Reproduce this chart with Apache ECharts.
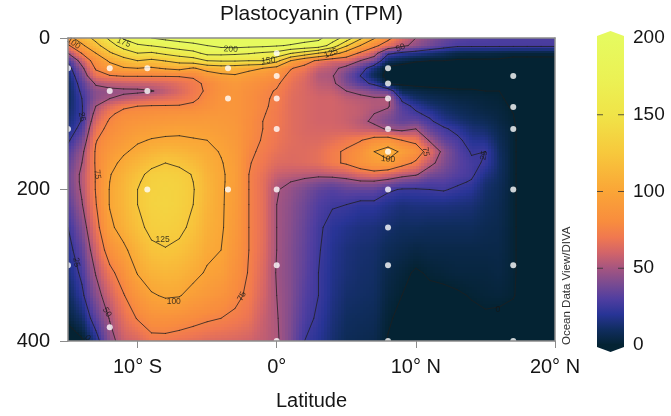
<!DOCTYPE html>
<html><head><meta charset="utf-8">
<script src="https://cdn.jsdelivr.net/npm/echarts@6/dist/echarts.min.js"></script>
<style>html,body{margin:0;padding:0;background:#fff}#c{width:671px;height:416px}</style>
</head><body><div id="c"></div>
<script>
// ---- data ----
const lats = [-15,-14,-13,-12,-11,-10,-9,-8,-7,-6,-5,-4,-3,-2,-1,0,1,2,3,4,5,6,7,8,9,10,11,12,13,14,15,16,17,18,19,20];
const depths = [0,10,20,30,40,50,60,70,80,90,100,110,120,135,150,165,180,190,200,220,250,280,310,340,370,400];
// one depth profile (values at `depths`) per latitude in `lats`
const valuesByLat = [
  [92,72,50,28,18,13,10,9,9,10,12,14,17,23,30,34,37,37,36,32,25,20,15,9,3,-8],
  [112,96,76,58,46,38,32,28,25,24,24,26,30,38,46,50,53,53,52,49,41,34,28,22,12,-2],
  [132,118,100,85,77,68,52,44,44,50,56,62,68,74,77,77,76,76,76,74,68,60,51,43,33,18],
  [155,140,122,103,90,74,56,46,50,64,72,77,80,85,90,95,99,100,101,101,96,84,70,60,51,44],
  [178,160,138,115,98,76,58,47,54,72,80,84,87,92,98,104,109,111,112,112,108,96,84,74,66,58],
  [190,172,150,125,100,76,59,47,58,75,82,87,92,98,104,112,120,123,125,125,120,110,101,88,76,62],
  [200,176,147,120,97,76,60,49,62,76,84,89,94,101,110,120,130,132,133,134,130,121,110,98,84,70],
  [206,182,155,126,102,76,62,55,65,76,85,90,96,102,114,125,132,134,135,136,132,124,113,102,85,70],
  [211,188,162,133,106,76,66,62,68,76,86,91,97,102,112,122,130,132,133,133,129,121,111,101,83,68],
  [215,193,168,138,98,77,71,70,72,78,86,91,96,101,108,116,124,125,126,125,121,114,105,94,80,66],
  [218,200,182,150,108,88,78,77,80,83,88,92,95,100,104,107,110,111,112,111,108,104,98,90,77,64],
  [220,206,182,152,112,95,86,85,86,87,89,91,93,96,99,101,102,102,102,102,102,100,95,86,75,63],
  [221,208,180,152,110,98,90,88,88,88,88,89,90,91,93,94,95,95,94,93,91,88,84,79,72,62],
  [221,206,177,150,105,92,86,83,82,82,82,81,81,80,78,76,75,75,75,75,75,75,74,72,68,60],
  [220,205,172,150,100,88,81,78,77,77,76,75,75,74,72,70,67,66,66,66,66,65,63,61,58,56],
  [218,202,168,132,92,82,77,74,73,72,71,71,70,69,67,64,58,54,51,50,50,50,49,50,51,52],
  [214,198,152,100,76,71,68,66,65,65,65,65,65,65,64,63,56,50,46,44,43,42,42,42,41,40],
  [208,194,140,82,70,64,62,62,62,62,62,62,62,63,64,64,55,46,40,37,35,34,33,31,29,25],
  [205,190,125,72,58,53,55,58,60,60,60,60,61,63,66,66,54,42,34,30,27,26,25,25,23,20],
  [188,165,112,62,54,51,53,57,60,60,60,60,61,66,72,72,56,40,31,26,21,19,18,17,15,13],
  [165,128,90,62,45,38,40,50,56,58,58,58,60,70,77,77,58,44,34,25,18,15,14,12,10,8],
  [130,100,72,50,33,25,30,46,54,56,56,54,57,74,84,86,64,48,34,22,16,13,12,11,9,7],
  [102,80,58,40,15,8,22,40,52,53,50,47,55,82,100,92,68,48,34,22,15,12,11,10,8,6],
  [80,65,28,10,-3,-4,0,36,53,52,44,40,48,85,110,95,62,44,27,18,12,8,5,3,1,-0.5],
  [62,54,22,5,-5,-6,-2,8,22,30,33,34,45,75,96,82,56,38,24,15,10,6,2,0,-2,-3],
  [50,45,18,1,-5,-6,-3,5,12,22,27,35,50,70,86,72,52,35,24,16,10,4,-1,-2,-3,-4],
  [42,38,14,0,-5,-6,-3,3,8,14,22,27,34,48,66,55,40,31,25,16,9,5,1,-2,-3,-4],
  [36,32,10,0,-5,-6,-3,2,6,10,14,19,27,34,45,42,36,31,26,16,9,5,2,-2,-3,-4],
  [32,28,5,-1,-5,-6,-3,1,4,7,10,14,21,28,32,33,31,27,23,15,9,5,3,-1,-3,-4],
  [30,28,4,-1,-5,-6,-3,1,3,5,7,10,14,19,24,27,27,24,20,14,9,5,3,0.5,-2,-3],
  [30,28,4,-1,-5,-6,-3,0,2,3,5,8,12,18,25,24,18,14,12,10,7,5,3,1.5,-1,-3],
  [29,28,3,-1,-5,-6,-2,0,1,2,3,4,6,8,10,11,10,9,8,7,6,5,4,2,-2,-4],
  [29,28,2,-2,-5,-6,-4,-3,-2,-1,0,0.5,1,1,1,1,1,1,1,1,1,1,1,0.5,-3,-5],
  [29,28,2,-2,-5,-6,-5,-4,-4,-4,-4,-4,-4,-4,-4,-4,-4,-4,-4,-4,-4,-4,-4,-4,-5,-6],
  [29,28,2,-2,-5,-6,-6,-5,-5,-5,-5,-5,-5,-5,-5,-5,-5,-5,-5,-5,-5,-5,-5,-5,-6,-7],
  [29,28,2,-2,-5,-6,-6,-6,-6,-6,-6,-6,-6,-6,-6,-6,-6,-6,-6,-6,-6,-6,-6,-6,-7,-8]
];
// sample positions [latitude, depth]
const stations = [
  [-15,40],[-15,120],[-15,300],
  [-12,40],[-12,70],[-12,382],
  [-9.3,40],[-9.3,70],[-9.3,200],
  [-3.5,40],[-3.5,80],[-3.5,200],
  [0,20],[0,50],[0,80],[0,120],[0,200],[0,300],[0,400],
  [8,40],[8,60],[8,80],[8,120],[8,150],[8,200],[8,250],[8,300],[8,400],
  [17,50],[17,91],[17,120],[17,200],[17,300],[17,400]
];
const contourLevels = [0,25,50,75,100,125,150,175,200];
// contour labels [latitude, depth, text, rotation]
const contourLabels = [
  [-14.6,7,'100',-35],[-11.0,6,'175',-22],[-3.3,15,'200',-3],[-0.6,30,'150',6],
  [3.9,20,'125',22],[8.9,13,'50',20],[-14.0,104,'25',-78],[-12.9,180,'75',-82],
  [-8.2,266,'125',0],[-7.4,348,'100',0],[-2.5,341,'75',62],[-12.2,362,'50',-60],
  [-14.4,296,'25',-80],[-13.6,396,'0',-45],[8.0,160,'100',-5],[10.7,150,'75',-80],
  [14.9,155,'25',78],[15.9,358,'0',0]
];
const xTickValues = [-10,0,10,20];
const xTickLabels = ['10° S','0°','10° N','20° N'];
const colorbarRange = [0,200];
const colorbarDashes = [50,100,150];
// colour scale stops [value, rgb]
const colorStops = [
  [0,[4,35,51]],[10,[16,45,95]],[20,[40,52,150]],[30,[80,62,160]],[40,[122,75,145]],
  [50,[165,85,128]],[60,[210,100,105]],[70,[240,120,80]],[80,[248,140,62]],
  [100,[250,165,55]],[125,[247,200,60]],[150,[240,228,72]],[175,[235,242,85]],[200,[230,250,95]]
];

// ---- helpers ----
const FONT = "'Liberation Sans', Arial, Helvetica, sans-serif";
function rgb(c){return 'rgb('+Math.round(c[0])+','+Math.round(c[1])+','+Math.round(c[2])+')';}
function colorFor(v){
  if (v <= colorStops[0][0]) return rgb(colorStops[0][1]);
  const last = colorStops[colorStops.length-1];
  if (v >= last[0]) return rgb(last[1]);
  for (let k=0;k<colorStops.length-1;k++){
    const a=colorStops[k], b=colorStops[k+1];
    if (v>=a[0] && v<=b[0]){
      const t=(v-a[0])/(b[0]-a[0]);
      return rgb([a[1][0]+t*(b[1][0]-a[1][0]), a[1][1]+t*(b[1][1]-a[1][1]), a[1][2]+t*(b[1][2]-a[1][2])]);
    }
  }
  return rgb(last[1]);
}
function val(i,j){return valuesByLat[i][j];}

// grid cells (one per pair of neighbouring stations/levels)
const cells = [];
for (let i=0;i<lats.length-1;i++) for (let j=0;j<depths.length-1;j++) cells.push([lats[i],depths[j],i,j]);

// contour segments by marching squares on the grid
function segmentsFor(level){
  const out=[];
  for (let i=0;i<lats.length-1;i++) for (let j=0;j<depths.length-1;j++){
    const P=[[lats[i],depths[j]],[lats[i+1],depths[j]],[lats[i+1],depths[j+1]],[lats[i],depths[j+1]]];
    const V=[val(i,j),val(i+1,j),val(i+1,j+1),val(i,j+1)];
    const cr=[]; let n=0;
    for (let e=0;e<4;e++){
      const k=(e+1)%4;
      if ((V[e]>=level)!==(V[k]>=level)){
        const t=(level-V[e])/(V[k]-V[e]);
        cr[e]=[P[e][0]+t*(P[k][0]-P[e][0]), P[e][1]+t*(P[k][1]-P[e][1])]; n++;
      } else cr[e]=null;
    }
    if (n===2){
      const p=cr.filter(c=>c);
      out.push([p[0][0],p[0][1],p[1][0],p[1][1]]);
    } else if (n===4){
      const m=(V[0]+V[1]+V[2]+V[3])/4;
      if ((m>=level)===(V[0]>=level)){
        out.push([cr[0][0],cr[0][1],cr[1][0],cr[1][1]]);
        out.push([cr[2][0],cr[2][1],cr[3][0],cr[3][1]]);
      } else {
        out.push([cr[3][0],cr[3][1],cr[0][0],cr[0][1]]);
        out.push([cr[1][0],cr[1][1],cr[2][0],cr[2][1]]);
      }
    }
  }
  return out;
}
const contourSegs=[];
contourLevels.forEach(l=>{segmentsFor(l).forEach(s=>contourSegs.push(s));});

function renderCell(params, api){
  const i=api.value(2), j=api.value(3);
  const p0=api.coord([lats[i],depths[j]]);
  const p1=api.coord([lats[i+1],depths[j+1]]);
  const x0=p0[0],x1=p1[0],y0=p0[1],y1=p1[1];
  const nx=Math.max(1,Math.round((x1-x0)/3)), ny=Math.max(1,Math.round((y1-y0)/3));
  const va=val(i,j),vb=val(i+1,j),vc=val(i+1,j+1),vd=val(i,j+1);
  const ch=[];
  for (let a=0;a<nx;a++){
    const xa=Math.round(x0+(x1-x0)*a/nx), xb=Math.round(x0+(x1-x0)*(a+1)/nx);
    const u=(a+0.5)/nx;
    for (let b=0;b<ny;b++){
      const ya=Math.round(y0+(y1-y0)*b/ny), yb=Math.round(y0+(y1-y0)*(b+1)/ny);
      const w=(b+0.5)/ny;
      const v=(va*(1-u)+vb*u)*(1-w)+(vd*(1-u)+vc*u)*w;
      ch.push({type:'rect',shape:{x:xa,y:ya,width:xb-xa,height:yb-ya},style:{fill:colorFor(v)}});
    }
  }
  return {type:'group',children:ch,silent:true};
}
function renderSeg(params, api){
  const a=api.coord([api.value(0),api.value(1)]);
  const b=api.coord([api.value(2),api.value(3)]);
  return {type:'line',shape:{x1:a[0],y1:a[1],x2:b[0],y2:b[1]},style:{stroke:'#1e1e1e',lineWidth:0.85,opacity:0.9,lineCap:'round'},silent:true};
}
function renderColorbar(params, api){
  const tl=api.coord([0,api.value(2)]);
  const br=api.coord([1,api.value(1)]);
  const xL=tl[0],xR=br[0],yT=tl[1],yB=br[1],xC=(xL+xR)/2;
  const stops=colorStops.map(s=>({offset:(s[0]-colorbarRange[0])/(colorbarRange[1]-colorbarRange[0]),color:rgb(s[1])}));
  const ch=[
    {type:'rect',shape:{x:xL,y:yT,width:xR-xL,height:yB-yT},style:{fill:new echarts.graphic.LinearGradient(0,1,0,0,stops)}},
    {type:'polygon',shape:{points:[[xL,yT+0.5],[xL,yT-2],[xC,yT-7],[xR,yT-2],[xR,yT+0.5]]},style:{fill:colorFor(colorbarRange[1])}},
    {type:'polygon',shape:{points:[[xL,yB-0.5],[xL,yB+2],[xC,yB+7],[xR,yB+2],[xR,yB-0.5]]},style:{fill:colorFor(colorbarRange[0])}}
  ];
  colorbarDashes.forEach(v=>{
    const p=api.coord([0,v]);
    ch.push({type:'line',shape:{x1:xL,y1:p[1],x2:xL+6,y2:p[1]},style:{stroke:'#333',lineWidth:1,opacity:0.8}});
    ch.push({type:'line',shape:{x1:xR-6,y1:p[1],x2:xR,y2:p[1]},style:{stroke:'#333',lineWidth:1,opacity:0.8}});
  });
  return {type:'group',children:ch,silent:true};
}

const axisGray = '#8c8c8c';
const chart = echarts.init(document.getElementById('c'), null, {renderer:'canvas', width:671, height:416});
chart.setOption({
  animation:false,
  backgroundColor:'#fff',
  textStyle:{fontFamily:FONT},
  grid:[
    {left:68, top:38, width:487, height:307},
    {left:597, top:38, width:27, height:307}
  ],
  xAxis:[
    {type:'value', gridIndex:0, min:-15, max:20, position:'bottom', z:10,
     axisLine:{show:true, onZero:false, lineStyle:{color:axisGray, width:1.5}},
     axisTick:{show:true, length:7, customValues:xTickValues, lineStyle:{color:axisGray, width:1}},
     axisLabel:{show:true, customValues:xTickValues, margin:16, fontSize:20, color:'#151515', fontFamily:FONT,
       formatter:(v)=>{const k=xTickValues.indexOf(v); return k>=0?xTickLabels[k]:'';}},
     splitLine:{show:false},
     name:'Latitude', nameLocation:'middle', nameGap:50, nameTextStyle:{fontSize:20, color:'#151515', fontFamily:FONT}},
    {type:'value', gridIndex:0, min:-15, max:20, position:'top', z:10,
     axisLine:{show:true, onZero:false, lineStyle:{color:axisGray, width:1.5}},
     axisTick:{show:false}, axisLabel:{show:false}, splitLine:{show:false}},
    {type:'value', gridIndex:1, min:0, max:1, show:false}
  ],
  yAxis:[
    {type:'value', gridIndex:0, inverse:true, min:0, max:400, interval:200, position:'left', z:10,
     axisLine:{show:true, onZero:false, lineStyle:{color:axisGray, width:1.5}},
     axisTick:{show:true, length:8, lineStyle:{color:axisGray, width:1}},
     axisLabel:{margin:18, fontSize:20, color:'#151515', fontFamily:FONT},
     splitLine:{show:false}},
    {type:'value', gridIndex:0, inverse:true, min:0, max:400, position:'right', z:10,
     axisLine:{show:true, onZero:false, lineStyle:{color:axisGray, width:1.5}},
     axisTick:{show:false}, axisLabel:{show:false}, splitLine:{show:false}},
    {type:'value', gridIndex:1, min:colorbarRange[0], max:colorbarRange[1], interval:50, position:'right',
     axisLine:{show:false}, axisTick:{show:false}, splitLine:{show:false},
     axisLabel:{margin:9, fontSize:19, color:'#151515', fontFamily:FONT}}
  ],
  graphic:[
    {type:'text', x:311.5, y:14, style:{text:'Plastocyanin (TPM)', textAlign:'center', textVerticalAlign:'middle', font:'21px '+FONT, fill:'#151515'}},
    {type:'text', x:567, y:345, rotation:Math.PI/2, style:{text:'Ocean Data View/DIVA', textAlign:'left', textVerticalAlign:'middle', font:'11.5px '+FONT, fill:'#333'}}
  ],
  series:[
    {type:'custom', name:'field', xAxisIndex:0, yAxisIndex:0, data:cells, renderItem:renderCell, clip:true, z:1, silent:true, progressive:0},
    {type:'custom', name:'contours', xAxisIndex:0, yAxisIndex:0, data:contourSegs, renderItem:renderSeg, clip:true, z:2, silent:true, progressive:0},
    {type:'scatter', name:'labels', xAxisIndex:0, yAxisIndex:0, symbolSize:0.1, z:3, silent:true,
     itemStyle:{color:'transparent'},
     label:{show:true, position:'inside', formatter:'{b}', fontSize:8.5, color:'#151515', fontFamily:FONT},
     data:contourLabels.map(l=>({name:l[2], value:[l[0],l[1]], label:{rotate:l[3]}}))},
    {type:'scatter', name:'stations', xAxisIndex:0, yAxisIndex:0, data:stations, symbolSize:6, clip:true, z:4, silent:true,
     itemStyle:{color:'#ffffff'}},
    {type:'custom', name:'colorbar', xAxisIndex:2, yAxisIndex:2, data:[[0.5,colorbarRange[0],colorbarRange[1]]],
     encode:{x:0, y:[1,2]}, renderItem:renderColorbar, clip:false, silent:true}
  ]
});
</script></body></html>
